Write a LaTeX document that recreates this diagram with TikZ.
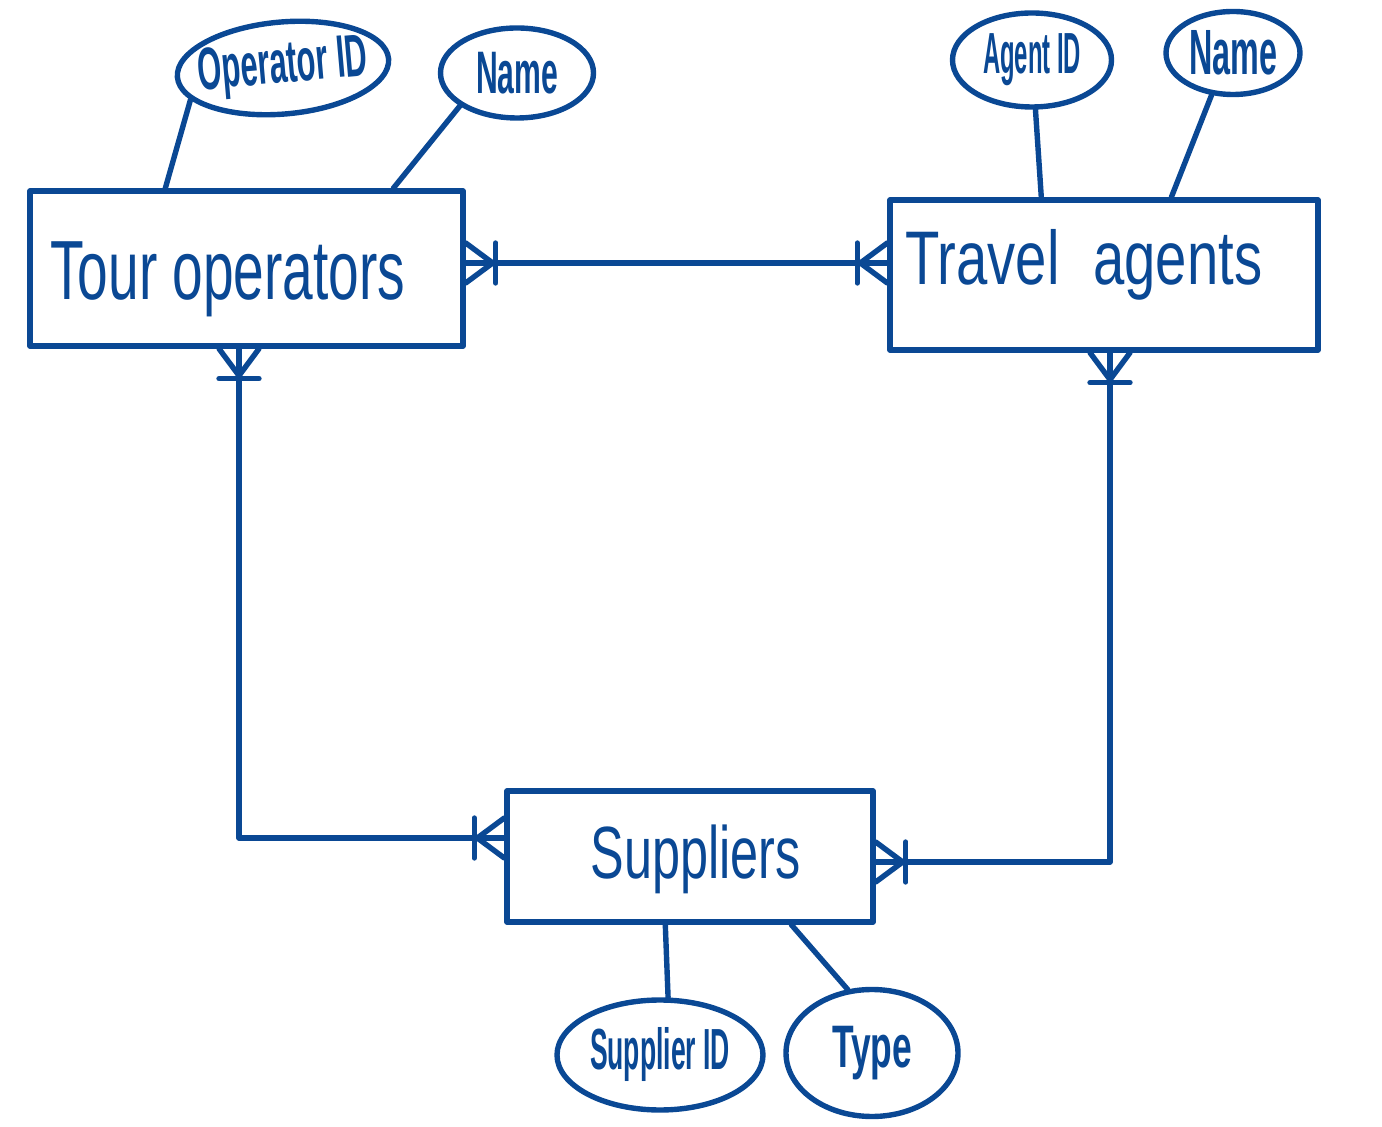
\documentclass[tikz,border=0pt]{standalone}
\usepackage{fontspec}
\setmainfont{Liberation Sans}
\usetikzlibrary{shapes.geometric,calc}
\definecolor{penblue}{RGB}{10,72,148}
\newcommand\penlabel[3]{\resizebox{#1}{\height}{\fontsize{#2}{#2}\selectfont #3}}
\begin{document}
\begin{tikzpicture}[x=0.5pt,y=-0.5pt,
  pen/.style={draw=penblue, line width=2.7pt, line cap=round, line join=round},
  entity/.style={pen, rectangle, inner sep=0pt},
  attr/.style={pen, ellipse, inner sep=0pt},
  lbl/.style={text=penblue, inner sep=0pt},
  attrtext/.style={lbl, font=\bfseries},
  crow/.pic={\draw[pen] (0,-20) -- (27,0) -- (0,20); \draw[pen] (30,-20) -- (30,20);}
]
\useasboundingbox (0,0) rectangle (1382,1127);

% entities
\node[entity, minimum width=216.5pt, minimum height=77.5pt] (tour) at (246.5,268.5) {};
\node[entity, minimum width=214pt, minimum height=75pt] (travel) at (1104,275) {};
\node[entity, minimum width=183pt, minimum height=65.5pt] (sup) at (690,856.5) {};

\node[lbl, anchor=base west] (tourlbl) at (50,300) {\penlabel{177.5pt}{42pt}{Tour operators}};
\node[lbl, anchor=base west] (travellbl) at (905,285) {\penlabel{178.5pt}{38pt}{Travel\hspace{0.6em}agents}};
\node[lbl, anchor=base west] (suplbl) at (590,878) {\penlabel{105pt}{37pt}{Suppliers}};

% attributes
\node[attr, minimum width=106pt, minimum height=46pt, rotate=5,
  label={[attrtext, rotate=5]center:\penlabel{85pt}{30pt}{Operator ID}}] (opid) at (283,68) {};
\node[attr, minimum width=76.5pt, minimum height=45pt,
  label={[attrtext]center:\penlabel{41pt}{30pt}{Name}}] (nameL) at (517,73) {};
\node[attr, minimum width=79.5pt, minimum height=47pt,
  label={[attrtext]center:\penlabel{49pt}{29pt}{Agent ID}}] (agid) at (1032,60) {};
\node[attr, minimum width=67pt, minimum height=41.5pt,
  label={[attrtext]center:\penlabel{44pt}{32pt}{Name}}] (nameR) at (1233,53) {};
\node[attr, minimum width=103pt, minimum height=55pt,
  label={[attrtext]center:\penlabel{70pt}{29pt}{Supplier ID}}] (supid) at (660,1055) {};
\node[attr, minimum width=86pt, minimum height=63.5pt,
  label={[attrtext]center:\penlabel{40pt}{30pt}{Type}}] (type) at (872,1053) {};

% attribute links
\draw[pen] ($(tour.north west)+(138,0)$) -- (opid.194);
\draw[pen] ($(tour.north west)+(366,0)$) -- (nameL.210);
\draw[pen] ($(travel.north west)+(154,0)$) -- (agid.274);
\draw[pen] ($(travel.north west)+(284,0)$) -- (nameR.243);
\draw[pen] ($(sup.south west)+(161,0)$) -- (supid.82);
\draw[pen] ($(sup.south west)+(287,0)$) -- (type.111);

% relationships
\draw[pen] (tour.east |- 0,263) -- (travel.west |- 0,263);
\pic at (tour.east |- 0,263) {crow};
\pic[rotate=180] at (travel.west |- 0,263) {crow};

\draw[pen] (tour.south -| 239,0) |- (sup.west |- 0,838);
\pic[rotate=-90] at (tour.south -| 239,0) {crow};
\pic[rotate=180] at (sup.west |- 0,838) {crow};

\draw[pen] (travel.south -| 1110,0) |- (sup.east |- 0,862);
\pic[rotate=-90] at (travel.south -| 1110,0) {crow};
\pic at (sup.east |- 0,862) {crow};
\end{tikzpicture}
\end{document}
